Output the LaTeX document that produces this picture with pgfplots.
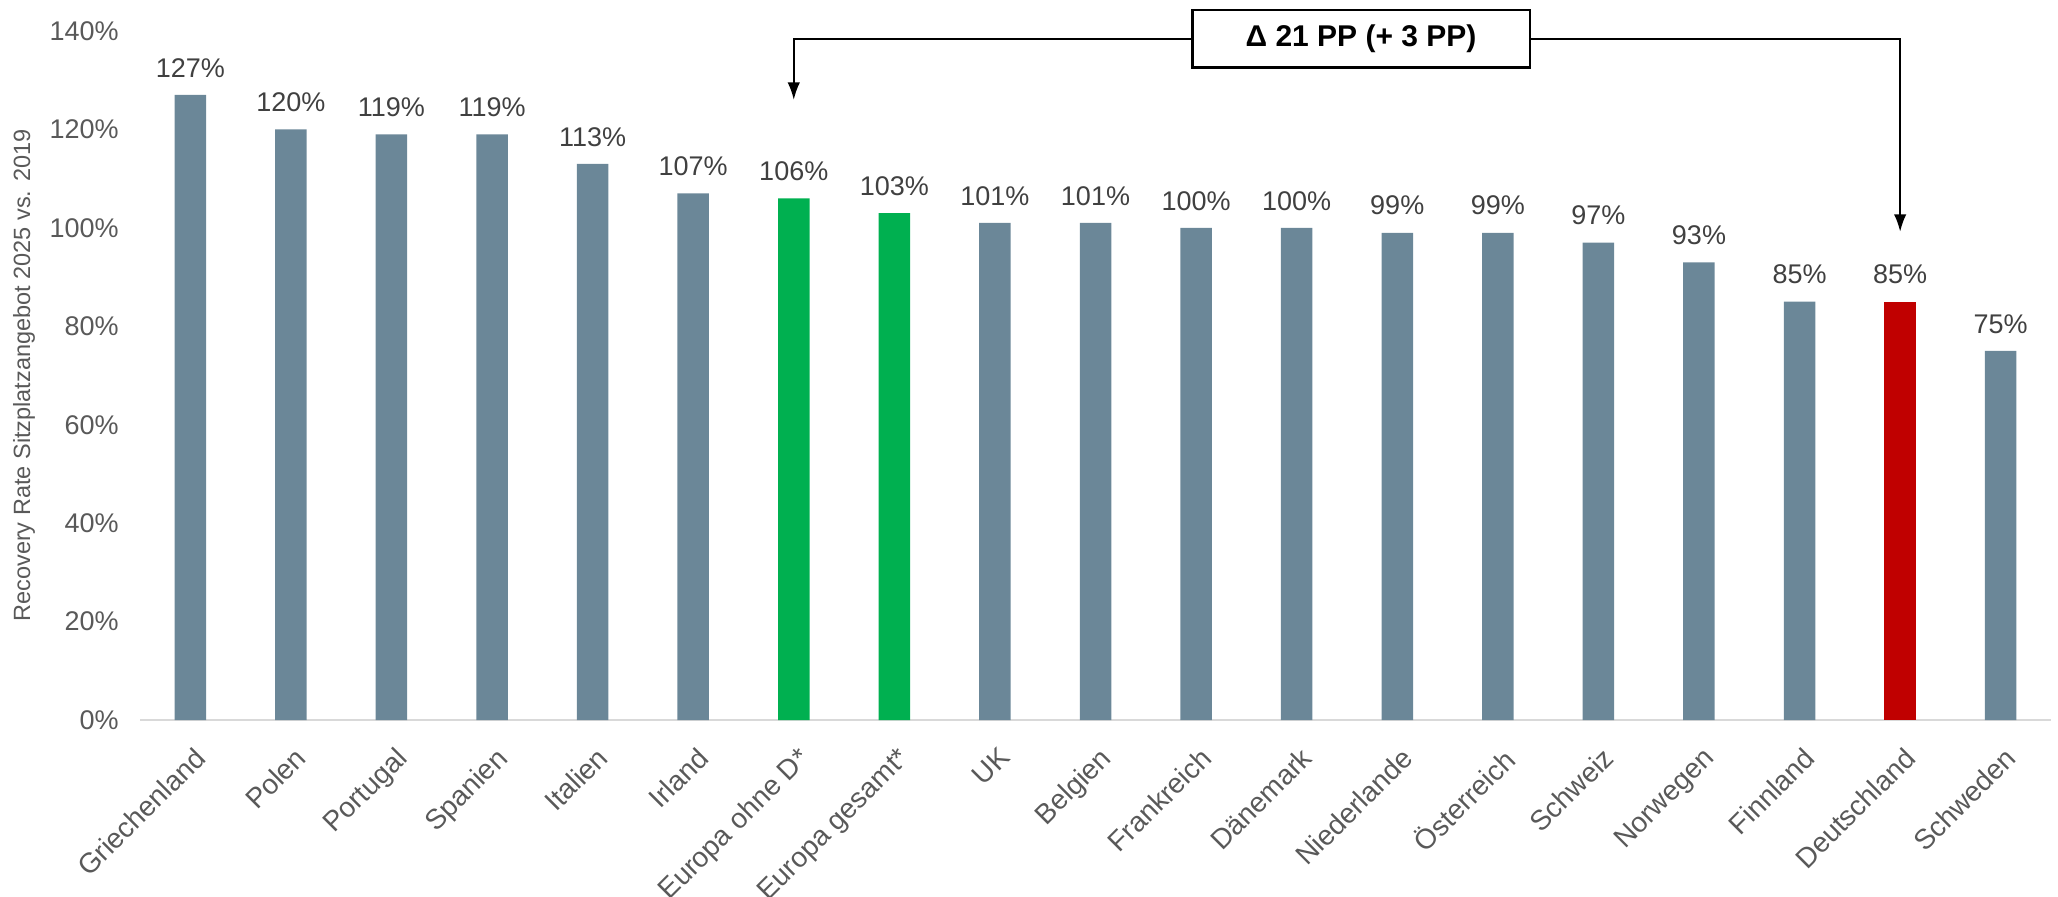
\documentclass[border=0pt]{standalone}
\usepackage{pgfplots}
\pgfplotsset{compat=1.18}
\usepackage{fontspec}
\setmainfont{Liberation Sans}
\usetikzlibrary{arrows.meta}
\definecolor{barblue}{HTML}{6B8798}
\definecolor{bargreen}{HTML}{00B050}
\definecolor{barred}{HTML}{C00000}
\definecolor{txtgray}{HTML}{595959}
\definecolor{lbl}{HTML}{404040}
\definecolor{axgray}{HTML}{D9D9D9}
\begin{document}
\begin{tikzpicture}
\useasboundingbox (0,0) rectangle (823.2pt,358.4pt);
\begin{axis}[
  at={(56pt,70.4pt)}, anchor=south west,
  scale only axis, width=764.4pt, height=275.6pt,
  ybar, bar width=12.6pt, bar shift=0pt,
  xmin=-0.5, xmax=18.5, ymin=0, ymax=140,
  ytick={0,20,...,140},
  yticklabel={\pgfmathprintnumber{\tick}\%},
  /pgf/number format/assume math mode=true,
  xtick={0,...,18},
  xticklabels={Griechenland,Polen,Portugal,Spanien,Italien,Irland,Europa ohne D*,Europa gesamt*,UK,Belgien,Frankreich,Dänemark,Niederlande,Österreich,Schweiz,Norwegen,Finnland,Deutschland,Schweden},
  xticklabel style={rotate=45, anchor=north east, font=\fontsize{11.2}{13}\selectfont, text=txtgray, yshift=-4.5pt, xshift=-3pt},
  yticklabel style={font=\fontsize{10.8}{13}\selectfont, text=txtgray, xshift=-5pt},
  major tick length=0pt,
  separate axis lines,
  axis x line*=bottom,
  axis y line*=left,
  y axis line style={draw=none},
  x axis line style={draw=axgray, line width=1pt, -},
  ylabel={Recovery Rate Sitzplatzangebot 2025 vs. 2019},
  every axis y label/.style={at={(axis description cs:0,0.5)}, xshift=-46.4pt, rotate=90, anchor=center, font=\fontsize{9.4}{11}\selectfont, text=txtgray},
  nodes near coords={\pgfmathprintnumber{\pgfplotspointmeta}\%},
  every node near coord/.append style={font=\fontsize{10.8}{13}\selectfont, text=lbl, anchor=south, yshift=3.5pt},
  clip=false,
]
\addplot[fill=barblue, draw=none] coordinates {(0,127) (1,120) (2,119) (3,119) (4,113) (5,107) (8,101) (9,101) (10,100) (11,100) (12,99) (13,99) (14,97) (15,93) (16,85) (18,75)};
\addplot[fill=bargreen, draw=none] coordinates {(6,106) (7,103)};
\addplot[fill=barred, draw=none] coordinates {(17,85)};
\node[draw=black, line width=1pt, fill=white, minimum width=135pt, minimum height=23pt, inner sep=0pt, font=\fontsize{12}{14}\selectfont\bfseries] (box) at (axis cs:11.64,138.4) {Δ 21 PP (+ 3 PP)};
\draw[line width=0.8pt, -{Latex[length=7pt,width=5pt]}] (box.west) -| (axis cs:6,126);
\draw[line width=0.8pt, -{Latex[length=7pt,width=5pt]}] (box.east) -| (axis cs:17,99.2);
\end{axis}
\end{tikzpicture}
\end{document}
